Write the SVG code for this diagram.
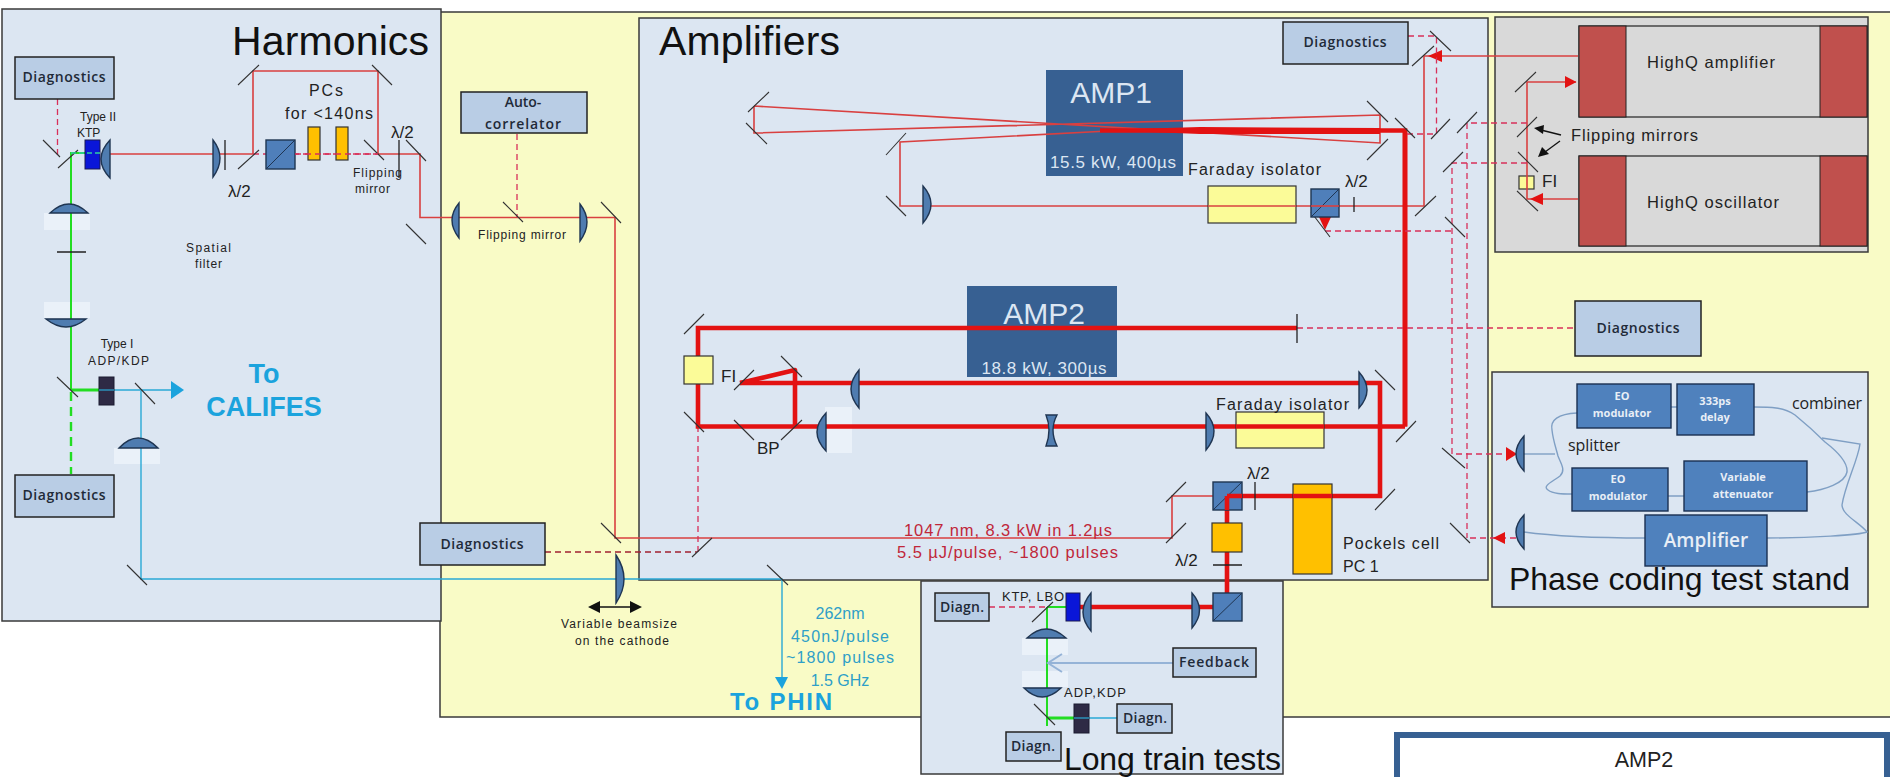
<svg xmlns="http://www.w3.org/2000/svg" width="1890" height="777" viewBox="0 0 1890 777">
<style>
text{font-family:"Liberation Sans",Arial,sans-serif;fill:#222}
.pn{fill:#dce6f2;stroke:#3a3a3a;stroke-width:1.5}
.bx{fill:#b9cde5;stroke:#222;stroke-width:1.5}
.bt{font-family:"Open Sans","Noto Sans",sans-serif;font-weight:600;font-size:14px;fill:#1f2a38;text-anchor:middle}
.t1{font-size:41px;fill:#111}
.t2{font-size:32px;fill:#111}
.s{font-size:12px}
.m16{font-size:16px}
.am{fill:#376092}
.amt{fill:#dce6f2;text-anchor:middle}
.c{text-anchor:middle}
.m{stroke:#333;stroke-width:1.1;fill:none}
.r{stroke:#d94040;stroke-width:1.6;fill:none}
.R{stroke:#e31212;stroke-width:4.6;fill:none}
.d{stroke:#d8305a;stroke-width:1.3;stroke-dasharray:6 4;fill:none}
.dk{stroke:#a02030;stroke-width:1.3;stroke-dasharray:6 4;fill:none}
.g{stroke:#22dd22;stroke-width:2;fill:none}
.G{stroke:#22dd22;stroke-width:3;fill:none}
.b{stroke:#2aa9d6;stroke-width:1.4;fill:none}
.l{fill:#4f7cb0;stroke:#1f3552;stroke-width:1.4}
.w{fill:#eaf1f9}
.o{fill:#ffc000;stroke:#333;stroke-width:1.2}
.y{fill:#fbfb98;stroke:#333;stroke-width:1.2}
.cube{fill:#4f7fba;stroke:#1f3552;stroke-width:1.4}
.f{stroke:#7f9fc4;stroke-width:1.4;fill:none}
.eo{fill:#4f81bd;stroke:#1a2f52;stroke-width:1.4}
.eot{font-family:"Open Sans",sans-serif;font-weight:700;font-size:11px;fill:#e8eef6;text-anchor:middle}
.rd{fill:#c0504d;stroke:#222;stroke-width:1}
.gr{fill:#d9d9d9;stroke:#222;stroke-width:1.2}
.cy{fill:#2e9fc8;text-anchor:middle;font-size:16px}
.cyb{fill:#1ba3dd;font-weight:700;text-anchor:middle}
.red{fill:#c0273a;font-size:16.5px}
</style>
<rect width="1890" height="777" fill="#fff"/>

<g id="lab-area"><rect x="440" y="12" width="1452" height="705" fill="#f9fbc6" stroke="#3a3a3a" stroke-width="1.5"/></g>
<g id="harmonics">
<rect class="pn" x="2" y="9" width="439" height="612"/>
<text class="t1" x="232" y="55" textLength="197">Harmonics</text>
</g>
<g id="amplifiers">
<rect class="pn" x="639" y="18" width="849" height="562"/>
<text class="t1" x="659" y="55" textLength="181">Amplifiers</text>
</g>
<g id="highq">
<rect x="1495" y="17" width="373" height="235" fill="#d9d9d9" stroke="#3a3a3a" stroke-width="1.5"/>
<rect class="gr" x="1579" y="26" width="288" height="91"/><rect class="rd" x="1579" y="26" width="47" height="91"/><rect class="rd" x="1820" y="26" width="47" height="91"/>
<rect class="gr" x="1579" y="156" width="288" height="90"/><rect class="rd" x="1579" y="156" width="47" height="90"/><rect class="rd" x="1820" y="156" width="47" height="90"/>
<text x="1647" y="68" font-size="16.5" textLength="128">HighQ amplifier</text>
<text x="1647" y="208" font-size="16.5" textLength="132">HighQ oscillator</text>
<text x="1571" y="141" font-size="16.5" textLength="127">Flipping mirrors</text>
<text x="1542" y="187" font-size="17">FI</text>
<rect class="y" x="1519" y="176" width="15" height="13"/>
</g>
<g id="phase-coding">
<rect class="pn" x="1492" y="372" width="376" height="235"/>
<text class="t2" x="1509" y="590" textLength="341">Phase coding test stand</text>
</g>
<g id="long-train">
<rect class="pn" x="921" y="581" width="362" height="193"/>
<text class="t2" x="1064" y="770" textLength="217">Long train tests</text>
</g>
<g id="amp2-legend">
<rect x="1397" y="735" width="490" height="60" fill="#fff" stroke="#376092" stroke-width="6"/>
<text x="1644" y="767" font-size="21.5" class="c" fill="#111">AMP2</text>
</g>

<g id="amp1"><rect class="am" x="1046" y="70" width="137" height="106"/>
<text class="amt" x="1111" y="103" font-size="30">AMP1</text>
<text class="amt" x="1113" y="168" font-size="17" textLength="126">15.5 kW, 400µs</text></g>
<g id="amp2"><rect class="am" x="967" y="286" width="150" height="91"/>
<text class="amt" x="1044" y="324" font-size="30">AMP2</text>
<text class="amt" x="1044" y="374" font-size="17" textLength="125">18.8 kW, 300µs</text></g>

<g id="soft-blocks">
<rect class="w" x="44" y="213" width="46" height="17"/><rect class="w" x="44" y="302" width="46" height="16"/>
<rect class="w" x="114" y="448" width="46" height="16"/>
<rect class="w" x="825" y="407" width="27" height="46"/>
<rect class="w" x="1022" y="638" width="46" height="17"/><rect class="w" x="1022" y="671" width="46" height="16"/>
</g>

<g id="connectors">
<!-- harmonics beams -->
<path class="r" d="M110 154H253V71H378V154H420V217.5H615V538H1172V496H1213"/>
<path class="d" d="M253 154H378"/>
<path class="d" d="M57.5 99V155"/>
<path class="g" d="M100 153H71V390"/>
<path class="G" d="M71 390H105"/>
<path class="b" d="M105 390H172"/>
<path d="M71 392V474" stroke="#22dd22" stroke-width="2.4" stroke-dasharray="9 6" fill="none"/>
<path class="b" d="M141 391V579H782V678"/>
<path class="d" d="M517 134V217"/>
<path class="dk" d="M545 552H697"/>
<path class="d" d="M698 552V426"/>
<path d="M171 381L184 390L171 399Z" fill="#1ba3dd"/>
<path d="M775 677H788L782 689Z" fill="#1ba3dd"/>
<path d="M596 607H634" stroke="#111" stroke-width="1.6"/>
<path d="M588 607L600 601V613Z M642 607L630 601V613Z" fill="#111"/>
<!-- amp1 beams -->
<path class="r" d="M754 106V133L1380 115V143L754 106"/>
<path class="r" d="M1108 131L900 142V206H1424V56H1578"/>
<path class="R" d="M1100 130.500L1405 130.500V426.500"/>
<path d="M1100 130L1200 127L1380 128V134L1200 134Z" fill="#e31212"/>
<path class="R" stroke-width="3" d="M1405 130.500V426.500"/>
<path class="r" d="M1576 82H1527V199H1578"/>
<path d="M1576.500 82L1565 76V88Z" fill="#e31212"/>
<path d="M1428 56L1442 50V62Z" fill="#e31212"/>
<path d="M1530 199L1543 193V205Z" fill="#e31212"/>
<path class="r" d="M1325 206V222"/>
<path d="M1319 217H1331L1325 230Z" fill="#e31212"/>
<path class="d" d="M1325 231H1452"/>
<path class="d" d="M1408 36H1436.500V134H1405"/>
<path class="d" d="M1527 123H1467V538"/>
<path class="d" d="M1527 163H1452V454H1516"/>
<path class="d" d="M1516 538H1467"/>
<path d="M1506 447L1517 454L1506 461Z" fill="#e31212"/>
<path d="M1493 538L1505 532V544Z" fill="#e31212"/>
<!-- amp2 beams -->
<path class="R" d="M1297 328H698V426.500H1405"/>
<path class="R" d="M740 383H1380V496H1227V593"/>
<path class="R" stroke-linejoin="round" d="M740 383L795 370V426"/>
<path class="R" stroke-width="5" d="M1080 607H1213"/>
<path class="d" d="M1297 328H1575"/>
<path class="d" d="M989 607H1047"/>
<path class="g" d="M1047 607V726"/><path class="g" d="M1047 607H1066"/>
<path class="G" d="M1047 718H1077"/>
<path class="b" d="M1077 718H1117"/>
<path stroke="#95b3d7" stroke-width="2" fill="none" d="M1173 663H1048M1062 654L1048 663L1062 672"/>
<!-- fibres -->
<path class="f" d="M1524 454H1555"/>
<path class="f" d="M1577 413C1558 414 1550 420 1552 430C1553 440 1556 448 1558 456C1561 464 1566 470 1560 476C1552 482 1542 486 1548 490C1553 494 1562 494 1572 494"/>
<path class="f" d="M1671 407H1677M1668 496H1684"/>
<path class="f" d="M1754 407C1770 407 1783 407 1795 415C1806 424 1815 432 1825 442C1838 452 1848 462 1847 472C1845 483 1825 490 1807 492"/>
<path class="f" d="M1822 438L1860 444C1858 460 1845 485 1842 505C1842 515 1860 523 1867 532C1860 535 1810 538 1767 538"/>
<path class="f" d="M1645 538C1600 538 1560 537 1524 532"/>
<!-- small pointers -->
<path d="M1561 135L1541 130" stroke="#111" stroke-width="1.3"/><path d="M1534 128L1544 125L1543 134Z" fill="#111"/>
<path d="M1560 141L1545 152" stroke="#111" stroke-width="1.3"/><path d="M1538 157L1542 147L1549 154Z" fill="#111"/>
</g>

<g id="mirrors">
<path class="m" d="M43 140L60 157M58 168L78 150M57 377L78 397M135 383L155 404M127 565L147 585M238 169L259 150M238 85L259 65M372 65L392 85M364 140L384 160M406 140L426 161M406 224L426 244M503 202L523 222M601 202L621 223M601 523L621 543M692 557L712 538M767 565L788 585"/>
<path class="m" d="M748 112L769 92M746 123L767 144M886 155L906 133M886 196L906 216M1367 101L1388 122M1367 160L1388 139M1395 118L1415 138M1415 216L1436 196M1311 212L1330 237M1445 217L1465 237M1430 31L1451 51M1412 66L1434 46M1431 139L1450 119M1457 133L1477 112M1443 172L1463 152M1442 448L1465 468M1450 523L1470 543"/>
<path class="m" d="M1517 191L1538 211M1515 92L1536 72M1517 137L1537 117M1518 152L1538 172"/>
<path class="m" d="M684 334L704 314M684 412L704 432M734 390L754 370M781 356L802 377M734 420L754 440M781 440L802 420M1375 370L1395 390M1396 442L1416 421M1375 510L1395 489M1166 502L1186 482M1166 543L1186 523"/>
<path class="m" d="M1032 622L1053 602M1034 704L1055 725"/>
<path stroke="#222" stroke-width="1.3" fill="none" d="M225 140V170M399 140V178M57 252H86M1354 197V212M1297 314V343M1255 482V510M1213 565H1242"/>
</g>

<g id="optics">
<path class="l" d="M110 140Q92 159 110 178Z"/>
<path class="l" d="M213 140Q227 158 213 177Z"/>
<path class="l" d="M452 221Q445 220 459 203V238Q445 226 452 221Z" opacity="0"/>
<path class="l" d="M459 203Q445 220 459 238Z"/>
<path class="l" d="M580 204Q594 222 580 241Z"/>
<path class="l" d="M50 213Q69 195 88 213Z"/>
<path class="l" d="M46 319Q66 335 86 319Z"/>
<path class="l" d="M119 448Q138 428 158 448Z"/>
<path class="l" d="M616 555Q632 579 616 603Z"/>
<path class="l" d="M923 186Q939 204 923 223Z"/>
<path class="l" d="M859 370Q843 389 859 408Z"/>
<path class="l" d="M826 413Q808 432 826 451Z"/>
<path class="l" d="M1046 415H1057Q1049 430 1057 446H1046Q1052 430 1046 415Z"/>
<path class="l" d="M1206 413Q1222 431 1206 450Z"/>
<path class="l" d="M1359 372Q1375 390 1359 408Z"/>
<path class="l" d="M1091 593Q1075 612 1091 631Z"/>
<path class="l" d="M1192 593Q1207 610 1192 628Z"/>
<path class="l" d="M1027 638Q1046 620 1066 638Z"/>
<path class="l" d="M1024 688Q1042 706 1061 688Z"/>
<path class="l" d="M1524 436Q1508 454 1524 471Z"/>
<path class="l" d="M1524 515Q1508 532 1524 549Z"/>

<rect x="85" y="140" width="15" height="29" fill="#0a16d8" stroke="#1a1a50"/>
<path d="M71 153H100" stroke="#2fd0a0" stroke-width="1.5" stroke-dasharray="5 3"/>
<rect x="99" y="377" width="15" height="28" fill="#2e2a45" stroke="#1a1a30"/>
<path d="M99 390H114" stroke="#2aa9d6" stroke-width="1.2"/>
<rect x="1066" y="593" width="14" height="28" fill="#0a16d8" stroke="#1a1a50"/>
<rect x="1074" y="704" width="15" height="29" fill="#2e2a45" stroke="#1a1a30"/>
<path d="M1074 718H1089" stroke="#2aa9d6" stroke-width="1.2"/>

<rect class="cube" x="266" y="140" width="29" height="29"/><path d="M266 169L295 140" stroke="#1f3552"/>
<rect class="o" x="308" y="127" width="12" height="33"/><rect class="o" x="336" y="127" width="12" height="33"/>
<path class="d" d="M295 154H378"/>
<rect class="y" x="1208" y="186" width="88" height="37"/><path class="r" d="M1208 206H1296"/>
<rect class="cube" x="1311" y="189" width="28" height="28"/><path d="M1311 217L1339 189" stroke="#1f3552"/><path class="r" d="M1311 206H1339"/>
<rect class="y" x="684" y="356" width="29" height="28"/>
<path d="M698 356V384" stroke="#e31212" stroke-width="4.600" opacity="0"/>
<rect class="y" x="1236" y="412" width="88" height="36"/><path class="R" d="M1236 426.500H1324"/>
<rect class="o" x="1293" y="484" width="39" height="90"/><path class="R" d="M1293 496H1332"/>
<rect class="cube" x="1213" y="482" width="29" height="28"/><path d="M1213 510L1242 482" stroke="#1f3552"/><path class="R" d="M1227 496H1242M1227 496V510"/>
<rect class="o" x="1212" y="523" width="30" height="29"/>
<rect class="cube" x="1213" y="593" width="29" height="28"/><path d="M1213 621L1242 593" stroke="#1f3552"/>
</g>

<g id="node-diag-1"><rect class="bx" x="15" y="57" width="99" height="42"/><text class="bt" x="64" y="82" textLength="83">Diagnostics</text></g>
<g id="node-diag-2"><rect class="bx" x="15" y="475" width="99" height="42"/><text class="bt" x="64" y="500" textLength="83">Diagnostics</text></g>
<g id="node-diag-3"><rect class="bx" x="420" y="523" width="125" height="42"/><text class="bt" x="482" y="549" textLength="83">Diagnostics</text></g>
<g id="node-diag-4"><rect class="bx" x="1283" y="22" width="125" height="42"/><text class="bt" x="1345" y="47" textLength="83">Diagnostics</text></g>
<g id="node-diag-5"><rect class="bx" x="1575" y="301" width="126" height="55"/><text class="bt" x="1638" y="333" textLength="83">Diagnostics</text></g>
<g id="node-autocorrelator"><rect class="bx" x="461" y="92" width="126" height="41"/><text class="bt" x="523" y="107">Auto-</text><text class="bt" x="523" y="129" textLength="76">correlator</text></g>
<g id="node-diagn-1"><rect class="bx" x="935" y="593" width="54" height="28"/><text class="bt" x="962" y="612" textLength="44">Diagn.</text></g>
<g id="node-diagn-2"><rect class="bx" x="1117" y="704" width="55" height="29"/><text class="bt" x="1145" y="723" textLength="44">Diagn.</text></g>
<g id="node-diagn-3"><rect class="bx" x="1006" y="732" width="55" height="29"/><text class="bt" x="1033" y="751" textLength="44">Diagn.</text></g>
<g id="node-feedback"><rect class="bx" x="1173" y="648" width="83" height="29"/><text class="bt" x="1214" y="667" textLength="70">Feedback</text></g>

<g id="node-eo-1"><rect class="eo" x="1577" y="384" width="94" height="44"/><text class="eot" x="1622" y="400">EO</text><text class="eot" x="1622" y="417">modulator</text></g>
<g id="node-delay"><rect class="eo" x="1677" y="384" width="77" height="51"/><text class="eot" x="1715" y="405">333ps</text><text class="eot" x="1715" y="421">delay</text></g>
<g id="node-eo-2"><rect class="eo" x="1572" y="468" width="96" height="43"/><text class="eot" x="1618" y="483">EO</text><text class="eot" x="1618" y="500">modulator</text></g>
<g id="node-attenuator"><rect class="eo" x="1684" y="461" width="123" height="50"/><text class="eot" x="1743" y="481">Variable</text><text class="eot" x="1743" y="498">attenuator</text></g>
<g id="node-amplifier"><rect class="eo" x="1645" y="515" width="122" height="51"/><text class="eot" x="1706" y="547" style="font-size:19px;font-weight:600">Amplifier</text></g>

<g id="labels">
<text class="m16 c" x="326" y="96" textLength="34">PCs</text>
<text class="m16" x="285" y="119" textLength="88">for &lt;140ns</text>
<text class="s c" x="98" y="121">Type II</text>
<text class="s" x="77" y="137" font-size="13">KTP</text>
<text x="228" y="197" font-size="17">λ/2</text>
<text x="391" y="138" font-size="17">λ/2</text>
<text class="s" x="353" y="177" textLength="49">Flipping</text>
<text class="s" x="355" y="193" textLength="35">mirror</text>
<text class="s" x="478" y="239" textLength="88">Flipping mirror</text>
<text class="s" x="186" y="252" textLength="45">Spatial</text>
<text class="s" x="195" y="268" textLength="27">filter</text>
<text class="s c" x="117" y="348">Type I</text>
<text class="s" x="88" y="365" textLength="61">ADP/KDP</text>
<text class="cyb" x="264" y="383" font-size="27">To</text>
<text class="cyb" x="264" y="416" font-size="27">CALIFES</text>
<text class="s c" x="619" y="628" textLength="116">Variable beamsize</text>
<text class="s c" x="622" y="645" textLength="94">on the cathode</text>
<text class="cy" x="840" y="619">262nm</text>
<text class="cy" x="840" y="642" textLength="98">450nJ/pulse</text>
<text class="cy" x="840" y="663" textLength="108">~1800 pulses</text>
<text class="cy" x="840" y="686">1.5 GHz</text>
<text class="cyb" x="781" y="710" font-size="24" textLength="102">To PHIN</text>
<text class="m16" x="1188" y="175" textLength="133">Faraday isolator</text>
<text class="m16" x="1216" y="410" textLength="133">Faraday isolator</text>
<text x="1345" y="187" font-size="17">λ/2</text>
<text x="721" y="382" font-size="17">FI</text>
<text x="757" y="454" font-size="17">BP</text>
<text x="1247" y="479" font-size="17">λ/2</text>
<text x="1175" y="566" font-size="17">λ/2</text>
<text class="m16" x="1343" y="549" textLength="96">Pockels cell</text>
<text class="m16" x="1343" y="572">PC 1</text>
<text class="red" x="904" y="536" textLength="208">1047 nm, 8.3 kW in 1.2µs</text>
<text class="red" x="897" y="558" textLength="221">5.5 µJ/pulse, ~1800 pulses</text>
<text x="1002" y="601" font-size="13" textLength="62">KTP, LBO</text>
<text x="1064" y="697" font-size="13" textLength="62">ADP,KDP</text>
<text x="1568" y="451" font-size="16" style="font-family:'Open Sans',sans-serif" textLength="52">splitter</text>
<text x="1792" y="409" font-size="16" style="font-family:'Open Sans',sans-serif" textLength="70">combiner</text>
</g>
</svg>
